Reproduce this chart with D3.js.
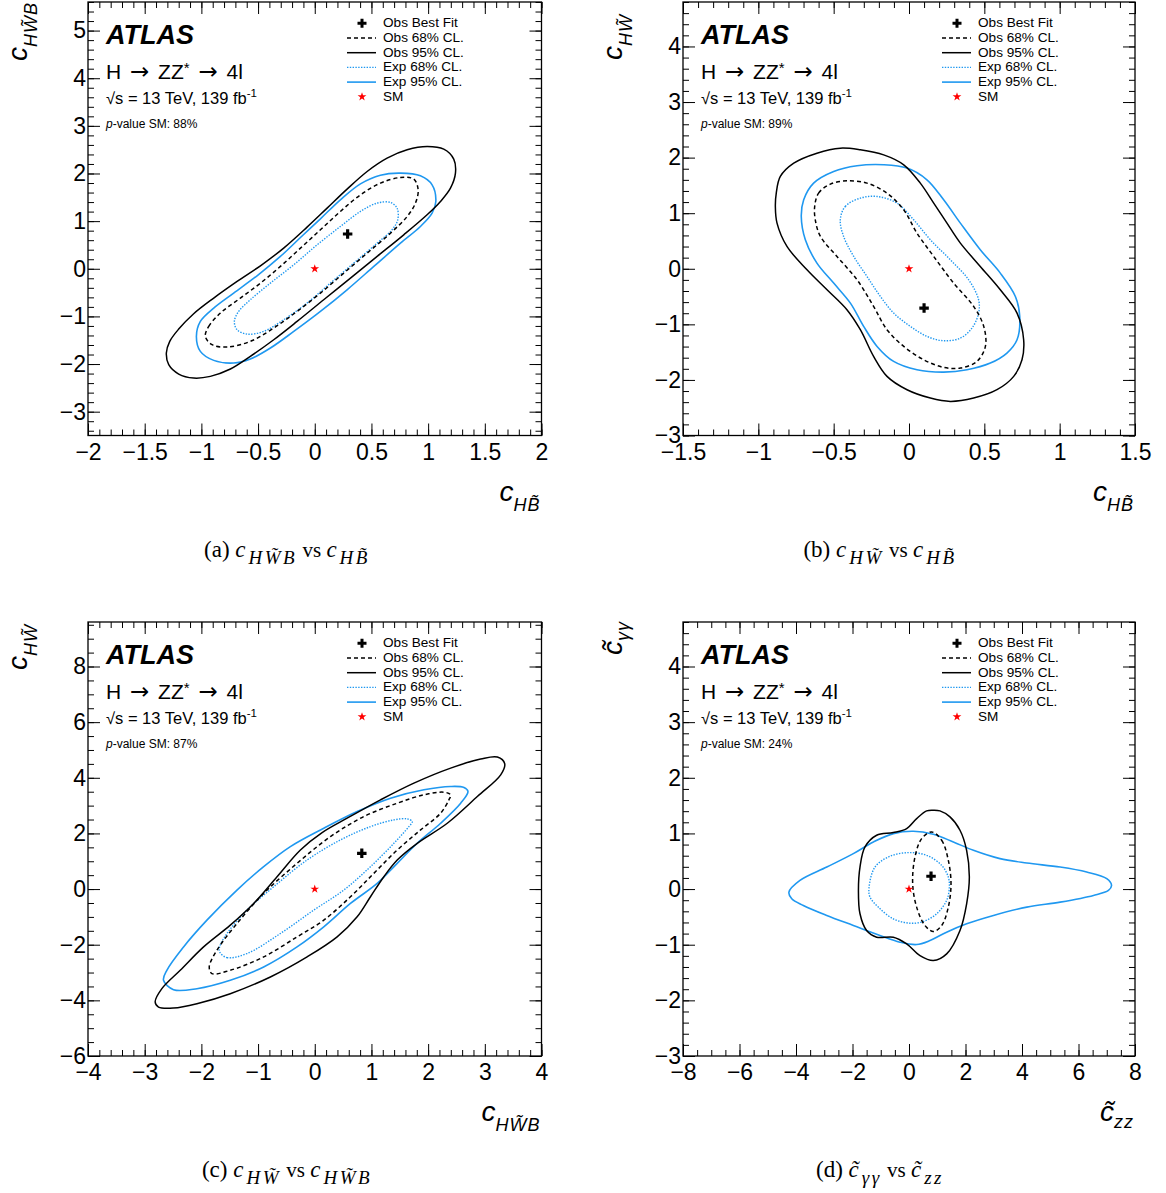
<!DOCTYPE html>
<html><head><meta charset="utf-8">
<script src="https://cdn.jsdelivr.net/npm/d3@7"></script>
<style>body{margin:0;background:#fff}svg{display:block}</style>
</head><body>
<svg id="c" width="1166" height="1193"></svg>
<script>
// ---------------- DATA ----------------
const legendLabels = ["Obs Best Fit","Obs 68% CL.","Obs 95% CL.","Exp 68% CL.","Exp 95% CL.","SM"];
const pValues = ["88%","89%","87%","24%"];

// panel (a): cHWtB vs cHtB
const aXTicks = [-2,-1.5,-1,-0.5,0,0.5,1,1.5,2];
const aXLabels = ["−2","−1.5","−1","−0.5","0","0.5","1","1.5","2"];
const aYTicks = [-3,-2,-1,0,1,2,3,4,5];
const aYLabels = ["−3","−2","−1","0","1","2","3","4","5"];
const aBest = [0.29,0.73];
const aObs95 = [[-1.309,-1.769],[-1.279,-1.524],[-1.2,-1.266],[-1.068,-0.944],[-0.891,-0.615],[-0.685,-0.266],[-0.479,0.063],[-0.274,0.434],[-0.068,0.874],[0.109,1.273],[0.285,1.671],[0.462,2.042],[0.638,2.322],[0.815,2.497],[0.991,2.566],[1.138,2.51],[1.226,2.301],[1.241,2.007],[1.197,1.692],[1.109,1.413],[0.991,1.133],[0.785,0.713],[0.55,0.259],[0.315,-0.196],[0.079,-0.65],[-0.156,-1.105],[-0.362,-1.49],[-0.568,-1.839],[-0.744,-2.105],[-0.921,-2.259],[-1.068,-2.294],[-1.2,-2.21],[-1.288,-2.014]];
const aObs68 = [[-0.965,-1.42],[-0.935,-1.21],[-0.832,-0.93],[-0.656,-0.615],[-0.479,-0.301],[-0.303,0.049],[-0.126,0.434],[0.05,0.818],[0.226,1.203],[0.403,1.552],[0.579,1.797],[0.756,1.916],[0.874,1.881],[0.912,1.657],[0.888,1.378],[0.815,1.098],[0.668,0.748],[0.462,0.329],[0.256,-0.091],[0.05,-0.51],[-0.156,-0.895],[-0.362,-1.245],[-0.568,-1.524],[-0.774,-1.643],[-0.906,-1.594]];
const aExp68 = [[-0.709,-1.105],[-0.671,-0.895],[-0.568,-0.65],[-0.391,-0.301],[-0.185,0.084],[0.021,0.503],[0.226,0.888],[0.403,1.203],[0.55,1.378],[0.668,1.392],[0.726,1.273],[0.732,1.028],[0.682,0.818],[0.55,0.538],[0.344,0.119],[0.138,-0.301],[-0.068,-0.72],[-0.274,-1.07],[-0.45,-1.315],[-0.597,-1.371],[-0.685,-1.28]];
const aExp95 = [[-1.044,-1.42],[-1.009,-1.105],[-0.891,-0.825],[-0.715,-0.51],[-0.509,-0.147],[-0.303,0.259],[-0.126,0.657],[0.05,1.049],[0.226,1.448],[0.403,1.783],[0.579,1.965],[0.756,2.007],[0.932,1.951],[1.035,1.762],[1.068,1.413],[1.035,1.168],[0.932,0.888],[0.756,0.538],[0.521,0.049],[0.285,-0.441],[0.05,-0.895],[-0.185,-1.315],[-0.391,-1.664],[-0.568,-1.895],[-0.715,-1.979],[-0.891,-1.923],[-1.009,-1.734]];

// panel (b): cHWt vs cHtB
const bXTicks = [-1.5,-1,-0.5,0,0.5,1,1.5];
const bXLabels = ["−1.5","−1","−0.5","0","0.5","1","1.5"];
const bYTicks = [-3,-2,-1,0,1,2,3,4];
const bYLabels = ["−3","−2","−1","0","1","2","3","4"];
const bBest = [0.1,-0.707];
const bObs95 = [[-0.881,1.361],[-0.854,1.661],[-0.765,1.9],[-0.611,2.08],[-0.456,2.17],[-0.323,2.14],[-0.168,2.05],[-0.035,1.871],[0.075,1.541],[0.164,1.181],[0.252,0.821],[0.341,0.462],[0.473,0.042],[0.606,-0.378],[0.717,-0.797],[0.761,-1.277],[0.75,-1.637],[0.695,-1.936],[0.584,-2.176],[0.429,-2.326],[0.274,-2.386],[0.142,-2.326],[-0.013,-2.176],[-0.146,-1.936],[-0.235,-1.577],[-0.323,-1.097],[-0.412,-0.737],[-0.544,-0.378],[-0.677,-0.018],[-0.81,0.402],[-0.876,0.821],[-0.887,1.121]];
const bObs68 = [[-0.626,1.121],[-0.6,1.361],[-0.522,1.523],[-0.412,1.583],[-0.279,1.541],[-0.146,1.361],[-0.035,1.061],[0.053,0.641],[0.164,0.222],[0.296,-0.258],[0.429,-0.677],[0.496,-1.037],[0.507,-1.397],[0.451,-1.667],[0.341,-1.787],[0.23,-1.775],[0.097,-1.637],[-0.035,-1.397],[-0.146,-1.097],[-0.235,-0.677],[-0.345,-0.198],[-0.478,0.222],[-0.588,0.582],[-0.622,0.881]];
const bExp68 = [[-0.456,0.881],[-0.423,1.121],[-0.323,1.271],[-0.212,1.301],[-0.08,1.181],[0.031,0.881],[0.142,0.522],[0.274,0.162],[0.396,-0.198],[0.462,-0.558],[0.462,-0.797],[0.418,-1.067],[0.341,-1.247],[0.23,-1.295],[0.119,-1.217],[0.009,-1.037],[-0.102,-0.797],[-0.19,-0.498],[-0.279,-0.138],[-0.367,0.222],[-0.434,0.582]];
const bExp95 = [[-0.715,0.941],[-0.699,1.241],[-0.633,1.541],[-0.5,1.751],[-0.345,1.853],[-0.168,1.871],[-0.013,1.811],[0.119,1.601],[0.23,1.241],[0.341,0.821],[0.473,0.342],[0.606,-0.078],[0.706,-0.498],[0.735,-0.857],[0.717,-1.277],[0.65,-1.517],[0.54,-1.697],[0.385,-1.817],[0.23,-1.859],[0.053,-1.817],[-0.102,-1.667],[-0.212,-1.397],[-0.301,-1.037],[-0.389,-0.618],[-0.5,-0.258],[-0.611,0.102],[-0.688,0.522]];

// panel (c): cHWt vs cHWtB
const cXTicks = [-4,-3,-2,-1,0,1,2,3,4];
const cXLabels = ["−4","−3","−2","−1","0","1","2","3","4"];
const cYTicks = [-6,-4,-2,0,2,4,6,8];
const cYLabels = ["−6","−4","−2","0","2","4","6","8"];
const cBest = [0.83,1.285];
const cObs95 = [[-2.815,-4.06],[-2.697,-3.58],[-2.373,-2.92],[-1.961,-2.078],[-1.49,-1.297],[-1.078,-0.517],[-0.665,0.444],[-0.253,1.405],[0.13,2.03],[0.571,2.547],[1.16,3.207],[1.749,3.808],[2.397,4.348],[2.927,4.673],[3.221,4.745],[3.351,4.505],[3.28,4.108],[2.868,3.327],[2.338,2.366],[1.808,1.646],[1.455,1.045],[1.219,0.444],[0.983,-0.276],[0.748,-0.997],[0.395,-1.718],[-0.135,-2.438],[-0.783,-3.159],[-1.49,-3.76],[-2.079,-4.12],[-2.491,-4.276],[-2.756,-4.24]];
const cObs68 = [[-1.814,-3.039],[-1.49,-2.919],[-0.901,-2.438],[-0.312,-1.718],[0.159,-1.117],[0.63,-0.276],[1.042,0.565],[1.455,1.405],[1.867,2.126],[2.22,2.727],[2.367,3.207],[2.397,3.387],[2.279,3.483],[1.926,3.387],[1.455,3.087],[0.866,2.607],[0.277,1.886],[-0.312,0.925],[-0.901,-0.156],[-1.372,-1.237],[-1.726,-2.198],[-1.861,-2.799]];
const cExp68 = [[-1.678,-2.258],[-1.549,-2.462],[-1.196,-2.318],[-0.607,-1.598],[-0.018,-0.757],[0.512,-0.036],[0.983,0.805],[1.396,1.646],[1.661,2.246],[1.72,2.426],[1.631,2.523],[1.396,2.487],[0.983,2.246],[0.453,1.766],[-0.135,1.045],[-0.724,0.084],[-1.196,-0.757],[-1.549,-1.598],[-1.678,-2.078]];
const cExp95 = [[-2.668,-3.279],[-2.491,-3.616],[-2.079,-3.58],[-1.49,-3.279],[-0.901,-2.799],[-0.312,-2.078],[0.159,-1.357],[0.63,-0.517],[1.101,0.204],[1.455,0.925],[1.808,1.646],[2.22,2.366],[2.574,3.087],[2.703,3.507],[2.633,3.652],[2.397,3.688],[1.926,3.568],[1.337,3.267],[0.748,2.787],[0.159,2.186],[-0.43,1.526],[-0.901,0.805],[-1.372,-0.036],[-1.902,-1.117],[-2.314,-2.078],[-2.609,-2.919]];

// panel (d): ctgamgam vs ctzz
const dXTicks = [-8,-6,-4,-2,0,2,4,6,8];
const dXLabels = ["−8","−6","−4","−2","0","2","4","6","8"];
const dYTicks = [-3,-2,-1,0,1,2,3,4];
const dYLabels = ["−3","−2","−1","0","1","2","3","4"];
const dBest = [0.78,0.23];
const dObs95 = [[0.861,1.417],[1.097,1.405],[1.451,1.297],[1.805,1.057],[2.04,0.697],[2.136,0.216],[2.04,-0.264],[1.805,-0.745],[1.333,-1.165],[0.861,-1.285],[0.389,-1.195],[-0.083,-0.985],[-0.555,-0.865],[-1.145,-0.865],[-1.5,-0.745],[-1.735,-0.444],[-1.79,-0.024],[-1.735,0.396],[-1.558,0.757],[-1.145,0.967],[-0.555,1.015],[-0.083,1.087],[0.271,1.267],[0.625,1.405]];
const dObs68 = [[0.802,1.027],[1.156,0.877],[1.392,0.517],[1.487,0.096],[1.392,-0.324],[1.156,-0.655],[0.861,-0.763],[0.566,-0.655],[0.271,-0.324],[0.13,0.096],[0.212,0.577],[0.448,0.907]];
const dExp68 = [[-1.416,0.018],[-1.204,0.396],[-0.673,0.589],[-0.024,0.655],[0.625,0.607],[1.156,0.426],[1.392,0.216],[1.428,0.036],[1.333,-0.204],[0.979,-0.444],[0.507,-0.583],[0.035,-0.613],[-0.555,-0.535],[-1.086,-0.324],[-1.381,-0.144]];
const dExp95 = [[-4.25,-0.054],[-3.86,0.156],[-2.91,0.396],[-1.97,0.637],[-1.26,0.847],[-0.555,0.997],[0.153,1.039],[0.86,0.985],[1.57,0.847],[2.28,0.697],[3.22,0.547],[4.17,0.468],[5.35,0.396],[6.29,0.306],[7.0,0.186],[7.17,0.066],[7.06,-0.024],[6.53,-0.114],[5.35,-0.234],[4.17,-0.324],[2.99,-0.474],[2.04,-0.625],[1.33,-0.775],[0.743,-0.925],[0.27,-0.997],[-0.32,-0.955],[-1.03,-0.835],[-1.97,-0.655],[-2.91,-0.474],[-3.74,-0.294],[-4.15,-0.174]];

// ---------------- STYLE / LAYOUT ----------------
const SANS = "'Liberation Sans', Arimo, Helvetica, Arial, sans-serif";
const SERIF = "'Liberation Serif', 'Times New Roman', serif";
const ARROWF = "'DejaVu Sans', sans-serif";
const BLUE = "#1f98f0";
const T = "\u0303"; // combining tilde

function capParts(tag, sub1, sub2, c1, c2){
  return [{t:tag+" ",s:23},{t:c1,s:23,i:1},{t:sub1,s:19,i:1,sh:7,ls:2.5,dx:3},{t:" vs ",s:21},{t:c2,s:23,i:1},{t:sub2,s:19,i:1,sh:7,ls:2.5,dx:3}];
}

const panels = [
  {key:"a", frame:[88,2,541.5,435.5], xd:[-2,2], yd:[-3.5,5.6], xT:aXTicks, xL:aXLabels, yT:aYTicks, yL:aYLabels, xMinor:0.1, yMinor:0.2,
   obs95:aObs95, obs68:aObs68, exp68:aExp68, exp95:aExp95, best:aBest, p:pValues[0],
   xTitle:[{t:"c",s:28,i:1},{t:"HB"+T,s:18,i:1,sh:10,ls:1}], yTitle:[{t:"c",s:28,i:1},{t:"HW"+T+"B",s:18,i:1,sh:10,ls:1}], yEnd:2,
   cap:capParts("(a)","HW"+T+"B","HB"+T,"c","c"), capX:287, capY:557},
  {key:"b", frame:[683,2,1135,435.5], xd:[-1.5,1.5], yd:[-3,4.8], xT:bXTicks, xL:bXLabels, yT:bYTicks, yL:bYLabels, xMinor:0.1, yMinor:0.2,
   obs95:bObs95, obs68:bObs68, exp68:bExp68, exp95:bExp95, best:bBest, p:pValues[1],
   xTitle:[{t:"c",s:28,i:1},{t:"HB"+T,s:18,i:1,sh:10,ls:1}], yTitle:[{t:"c",s:28,i:1},{t:"HW"+T,s:18,i:1,sh:10,ls:1}], yEnd:14,
   cap:capParts("(b)","HW"+T,"HB"+T,"c","c"), capX:880, capY:557},
  {key:"c", frame:[88,622,541.5,1056], xd:[-4,4], yd:[-6,9.6], xT:cXTicks, xL:cXLabels, yT:cYTicks, yL:cYLabels, xMinor:0.2, yMinor:0.5,
   obs95:cObs95, obs68:cObs68, exp68:cExp68, exp95:cExp95, best:cBest, p:pValues[2],
   xTitle:[{t:"c",s:28,i:1},{t:"HW"+T+"B",s:18,i:1,sh:10,ls:1}], yTitle:[{t:"c",s:28,i:1},{t:"HW"+T,s:18,i:1,sh:10,ls:1}], yEnd:624,
   cap:capParts("(c)","HW"+T,"HW"+T+"B","c","c"), capX:287, capY:1177},
  {key:"d", frame:[683,622,1135,1056], xd:[-8,8], yd:[-3,4.8], xT:dXTicks, xL:dXLabels, yT:dYTicks, yL:dYLabels, xMinor:0.5, yMinor:0.2,
   obs95:dObs95, obs68:dObs68, exp68:dExp68, exp95:dExp95, best:dBest, p:pValues[3],
   xTitle:[{t:"c"+T,s:28,i:1},{t:"zz",s:18,i:1,sh:7,ls:1}], yTitle:[{t:"c"+T,s:28,i:1},{t:"γγ",s:18,i:1,sh:7,ls:1}], yEnd:621,
   cap:capParts("(d)","γγ","zz","c"+T,"c"+T), capX:880, capY:1177}
];

const svg = d3.select("#c");

function rich(g, parts, family){
  const txt = g.append("text").attr("font-family", family).attr("fill","#000");
  let prev = 0;
  parts.forEach(p=>{
    const sh = p.sh||0;
    const ts = txt.append("tspan").attr("dy", sh-prev).attr("font-size", p.s)
      .attr("font-style", p.i?"italic":"normal").attr("font-weight", p.b?"bold":"normal").text(p.t);
    if(p.f) ts.attr("font-family", p.f);
    if(p.ls) ts.attr("letter-spacing", p.ls);
    if(p.dx) ts.attr("dx", p.dx);
    prev = sh;
  });
  return txt;
}

const styles = {
  obs68:{stroke:"#000", w:1.5, dash:"4,3"},
  obs95:{stroke:"#000", w:1.5, dash:null},
  exp68:{stroke:BLUE, w:1.4, dash:"1.4,1.4"},
  exp95:{stroke:BLUE, w:1.6, dash:null}
};

panels.forEach(P=>{
  const [x0,y0,x1,y1] = P.frame;
  const x = d3.scaleLinear().domain(P.xd).range([x0,x1]);
  const y = d3.scaleLinear().domain(P.yd).range([y1,y0]);
  const g = svg.append("g");

  const xMinorT = d3.range(Math.ceil(P.xd[0]/P.xMinor-1e-9), Math.floor(P.xd[1]/P.xMinor+1e-9)+1).map(k=>+(k*P.xMinor).toFixed(4));
  const yMinorT = d3.range(Math.ceil(P.yd[0]/P.yMinor-1e-9), Math.floor(P.yd[1]/P.yMinor+1e-9)+1).map(k=>+(k*P.yMinor).toFixed(4));

  // axes (ticks inward on all sides)
  const mk = (axis, tr, ticks, size, labels)=>{
    const a = axis.tickValues(ticks).tickSizeInner(size).tickSizeOuter(0);
    if(labels){ a.tickFormat((d,i)=>labels[i]); } else a.tickFormat("");
    const ag = g.append("g").attr("transform", tr).call(a);
    ag.select(".domain").remove();
    ag.selectAll("line").attr("stroke","#000").attr("stroke-width",1);
    ag.selectAll("text").attr("font-family",SANS).attr("font-size",23).attr("fill","#000");
    return ag;
  };
  mk(d3.axisBottom(x).tickPadding(8), `translate(0,${y1})`, P.xT, -12, P.xL);
  mk(d3.axisBottom(x), `translate(0,${y1})`, xMinorT, -6, null);
  mk(d3.axisTop(x), `translate(0,${y0})`, P.xT, -12, null);
  mk(d3.axisTop(x), `translate(0,${y0})`, xMinorT, -6, null);
  mk(d3.axisLeft(y).tickPadding(2), `translate(${x0},0)`, P.yT, -12, P.yL);
  mk(d3.axisLeft(y), `translate(${x0},0)`, yMinorT, -6, null);
  mk(d3.axisRight(y), `translate(${x1},0)`, P.yT, -12, null);
  mk(d3.axisRight(y), `translate(${x1},0)`, yMinorT, -6, null);

  // clip
  svg.append("clipPath").attr("id","clip"+P.key).append("rect").attr("x",x0).attr("y",y0).attr("width",x1-x0).attr("height",y1-y0);
  const pg = g.append("g").attr("clip-path",`url(#clip${P.key})`);
  const line = d3.line().x(d=>x(d[0])).y(d=>y(d[1])).curve(d3.curveCatmullRomClosed.alpha(0.5));
  ["exp95","exp68","obs95","obs68"].forEach(k=>{
    const s = styles[k];
    pg.append("path").datum(P[k]).attr("d",line).attr("fill","none")
      .attr("stroke",s.stroke).attr("stroke-width",s.w).attr("stroke-dasharray",s.dash);
  });
  // SM star and best fit
  pg.append("path").attr("d", d3.symbol(d3.symbolStar, 24)()).attr("fill","#ff0000")
    .attr("transform",`translate(${x(0)},${y(0)})`);
  pg.append("path").attr("d", d3.symbol(d3.symbolCross, 50)()).attr("fill","#000")
    .attr("transform",`translate(${x(P.best[0])},${y(P.best[1])})`);

  // frame
  g.append("rect").attr("x",x0).attr("y",y0).attr("width",x1-x0).attr("height",y1-y0)
    .attr("fill","none").attr("stroke","#000").attr("stroke-width",1.3);

  // labels inside
  const tl = g.append("g").attr("transform",`translate(${x0+18},0)`);
  rich(tl.append("g").attr("transform",`translate(0,${y0+41.5})`), [{t:"ATLAS",s:27,i:1,b:1}], SANS);
  rich(tl.append("g").attr("transform",`translate(0,${y0+76.5})`),
    [{t:"H ",s:21},{t:"→",s:23,f:ARROWF,dx:3},{t:" ZZ",s:21,dx:3},{t:"*",s:15,sh:-6},{t:" ",s:21},{t:"→",s:23,f:ARROWF,dx:3},{t:" 4l",s:21,dx:3}], SANS);
  rich(tl.append("g").attr("transform",`translate(0,${y0+101.5})`), [{t:"√s = 13 TeV, 139 fb",s:16.5},{t:"-1",s:11.5,sh:-7}], SANS);
  rich(tl.append("g").attr("transform",`translate(0,${y0+126.3})`), [{t:"p",s:12,i:1},{t:"-value SM: "+P.p,s:12}], SANS);

  // legend
  const lg = g.append("g").attr("transform",`translate(${x0},${y0})`);
  legendLabels.forEach((lab,i)=>{
    const by = 25.3 + i*14.7;
    lg.append("text").attr("x",295).attr("y",by).attr("font-family",SANS).attr("font-size",13.6).attr("fill","#000").text(lab);
    const cy = by-4;
    if(i===0){
      lg.append("path").attr("d",d3.symbol(d3.symbolCross,45)()).attr("transform",`translate(274,${cy})`).attr("fill","#000");
    } else if(i===5){
      lg.append("path").attr("d",d3.symbol(d3.symbolStar,24)()).attr("transform",`translate(274,${cy})`).attr("fill","#ff0000");
    } else {
      const s = styles[["obs68","obs95","exp68","exp95"][i-1]];
      lg.append("line").attr("x1",259).attr("x2",288).attr("y1",cy).attr("y2",cy)
        .attr("stroke",s.stroke).attr("stroke-width",s.w).attr("stroke-dasharray",s.dash);
    }
  });

  // x title (right aligned)
  rich(g.append("g").attr("transform",`translate(${x1-1},${y1+65})`), P.xTitle, SANS).attr("text-anchor","end");
  // y title (rotated, ends at top)
  rich(g.append("g").attr("transform",`translate(${x0-61},${P.yEnd}) rotate(-90)`), P.yTitle, SANS).attr("text-anchor","end");
  // caption
  rich(svg.append("g").attr("transform",`translate(${P.capX},${P.capY})`), P.cap, SERIF).attr("text-anchor","middle");
});
</script>
</body></html>
